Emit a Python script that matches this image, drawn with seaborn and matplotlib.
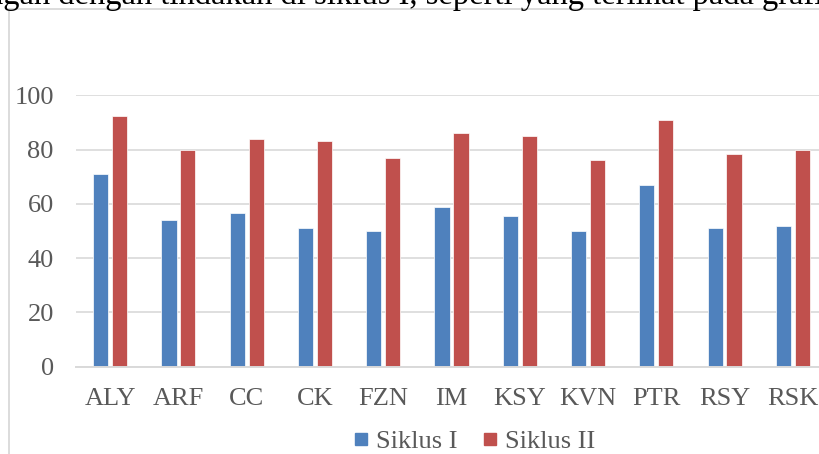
import matplotlib
matplotlib.use("Agg")
import matplotlib.pyplot as plt
import pandas as pd
import seaborn as sns
from matplotlib.lines import Line2D

# Student scores per cycle
students = ["ALY", "ARF", "CC", "CK", "FZN", "IM", "KSY", "KVN", "PTR", "RSY", "RSK"]
siklus_1 = [71, 54, 56.5, 51, 50, 59, 55.5, 50, 67, 51, 52]
siklus_2 = [92.5, 80, 84, 83, 77, 86, 85, 76, 91, 78.5, 80]
series_names = ["Siklus I", "Siklus II"]
y_ticks = [0, 20, 40, 60, 80, 100]

df = pd.DataFrame({
    "Siswa": students * 2,
    "Nilai": siklus_1 + siklus_2,
    "Siklus": [series_names[0]] * len(students) + [series_names[1]] * len(students),
})

sns.set_theme(style="white")
plt.rcParams["font.family"] = ["Liberation Serif", "DejaVu Serif"]

W, H = 820, 454
fig = plt.figure(figsize=(W / 100, H / 100), dpi=100)
fig.patch.set_facecolor("white")

# axes placed in pixel terms (right edge runs slightly past the canvas)
left_px, right_px, top_px, bottom_px = 76, 827, 95.3, 366.7
ax = fig.add_axes([left_px / W, 1 - bottom_px / H,
                   (right_px - left_px) / W, (bottom_px - top_px) / H])

blue, red = "#4F81BD", "#C0504D"
grid_c = "#D9D9D9"
text_c = "#595959"

sns.barplot(data=df, x="Siswa", y="Nilai", hue="Siklus", order=students,
            hue_order=series_names, palette=[blue, red], saturation=1,
            width=0.556, gap=0.2, errorbar=None, edgecolor="white",
            linewidth=0.5, ax=ax, legend=False, zorder=3)

ax.set_xlim(-0.5, len(students) - 0.5)
ax.set_ylim(0, 100)
ax.set_yticks(y_ticks)
ax.yaxis.grid(True, color=grid_c, linewidth=1.2, zorder=0)
ax.set_axisbelow(True)
for s in ["top", "right", "left"]:
    ax.spines[s].set_visible(False)
ax.spines["bottom"].set_color(grid_c)
ax.spines["bottom"].set_linewidth(1.4)
ax.spines["bottom"].set_zorder(4)
ax.tick_params(axis="both", length=0, labelsize=19, labelcolor=text_c)
ax.tick_params(axis="y", pad=16)
ax.tick_params(axis="x", pad=15)
ax.set_xlabel("")
ax.set_ylabel("")

# legend along the bottom
handles = [Line2D([], [], marker="s", linestyle="", markersize=9,
                  markerfacecolor=c, markeredgecolor=c) for c in (blue, red)]
fig.legend(handles, series_names, loc="center", ncol=2, frameon=False,
           bbox_to_anchor=(475 / W, 1 - 441 / H), fontsize=19,
           labelcolor=text_c, handlelength=0.5, handletextpad=0.3,
           columnspacing=1.0)

# chart area border
fig.add_artist(Line2D([9 / W, 9 / W], [0, 1 - 8.7 / H], transform=fig.transFigure,
                      color=grid_c, linewidth=1.3))
fig.add_artist(Line2D([9 / W, 1], [1 - 8.7 / H, 1 - 8.7 / H], transform=fig.transFigure,
                      color=grid_c, linewidth=1.3))

# surrounding paragraph line above the chart
fig.text(-13 / W, 1 - 4 / H,
         "ngan dengan tindakan di siklus I, seperti yang terlihat pada grafik",
         ha="left", va="baseline", fontsize=23.5, color="black")

fig.savefig("out.png", dpi=100, facecolor="white")
